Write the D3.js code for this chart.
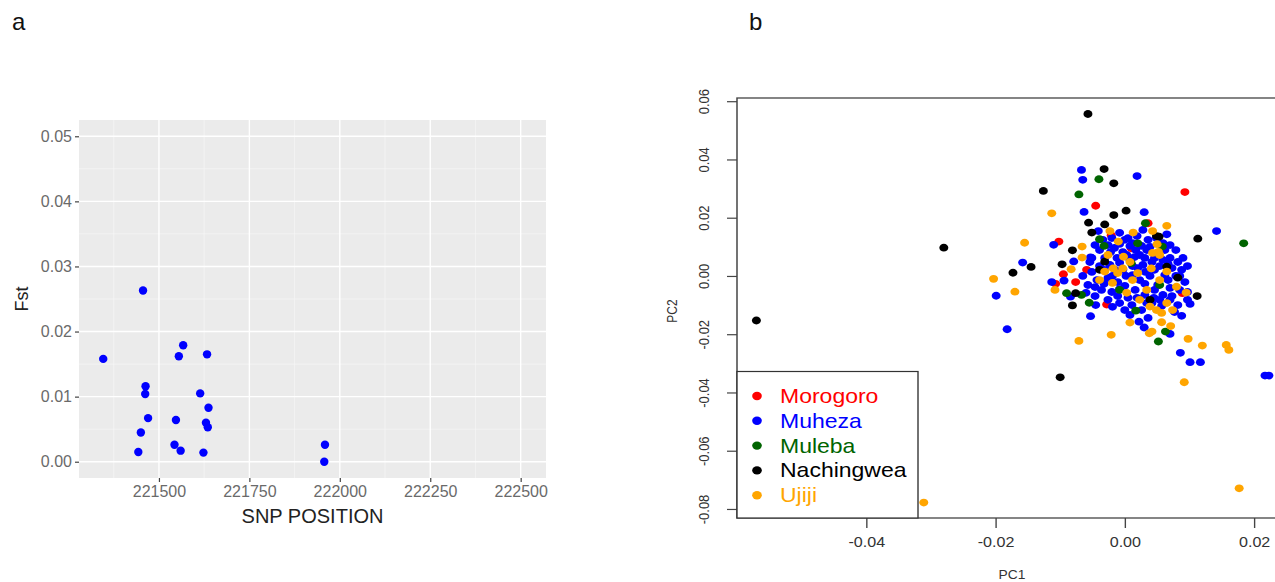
<!DOCTYPE html>
<html><head><meta charset="utf-8">
<script src="https://cdn.jsdelivr.net/npm/d3@7"></script>
<style>
body{margin:0;background:#fff}
svg{display:block;font-family:"Liberation Sans",Arial,Helvetica,sans-serif}
</style>
</head><body>
<svg id="chart" width="1275" height="582"></svg>
<script>
// ---------- Panel a data ----------
const snpPosition = [221346,221456,221463,221462,221470,221450,221443,221567,221555,221633,221614,221637,221630,221635,221547,221543,221560,221623,221959,221957];
const fstValue    = [0.0158,0.0263,0.0116,0.0104,0.0067,0.0045,0.0015,0.0179,0.0162,0.0165,0.0105,0.0083,0.0060,0.0053,0.0064,0.0026,0.0017,0.0014,0.0026,0.0000];
const xTicksA = [221500,221750,222000,222250,222500];
const xMinorA = [221375,221625,221875,222125,222375];
const yTicksA = [0.00,0.01,0.02,0.03,0.04,0.05];
const yMinorA = [0.005,0.015,0.025,0.035,0.045];

// ---------- Panel b data ----------
const groups = ["Morogoro","Muheza","Muleba","Nachingwea","Ujiji"];
const groupColors = ["#FF0000","#0000FF","#006400","#000000","#FFA500"];
const drawOrder = ["Morogoro","Muheza","Muleba","Nachingwea","Ujiji"];
const xTicksB = [-0.04,-0.02,0.00,0.02];
const yTicksB = [-0.08,-0.06,-0.04,-0.02,0.00,0.02,0.04,0.06];

const morogoro = [[0.0093,0.0288],[-0.0045,0.0241],[-0.0021,0.0140],[-0.0102,0.0118],[-0.0095,0.0006],[-0.0076,-0.0021],[-0.0107,-0.0027],[-0.0028,-0.0098],[0.0089,-0.0059],[-0.0059,0.0021],[0.0036,0.0181],[0.0010,0.0095]];
const muleba = [[-0.0040,0.0332],[-0.0071,0.0280],[0.0032,0.0181],[0.0184,0.0112],[-0.0032,0.0103],[-0.0039,0.0126],[0.0020,0.0112],[0.0058,0.0101],[-0.0090,-0.0059],[-0.0067,-0.0065],[-0.0055,-0.0092],[0.0017,-0.0119],[0.0063,-0.0191],[0.0052,-0.0225],[0.0010,0.0044],[-0.0008,-0.0048],[0.0054,-0.0031]];
const nachingwea = [[-0.0057,0.0556],[-0.0570,-0.0153],[-0.0280,0.0097],[-0.0032,0.0367],[-0.0017,0.0318],[-0.0126,0.0292],[-0.0017,0.0209],[0.0002,0.0224],[-0.0056,0.0183],[-0.0031,0.0177],[-0.0051,0.0149],[0.0049,0.0137],[0.0053,0.0135],[0.0113,0.0128],[-0.0081,0.0088],[-0.0145,0.0031],[-0.0097,0.0040],[-0.0173,0.0011],[-0.0076,-0.0059],[-0.0081,-0.0101],[0.0112,-0.0069],[0.0082,-0.0006],[-0.0100,-0.0348],[-0.0031,0.0049],[0.0065,0.0032],[-0.0039,0.0021],[0.0039,-0.0082]];
const ujiji = [[-0.0113,0.0215],[0.0065,0.0172],[-0.0155,0.0114],[-0.0066,0.0101],[-0.0066,0.0063],[-0.0083,0.0023],[-0.0203,-0.0010],[-0.0108,-0.0048],[-0.0170,-0.0054],[0.0095,-0.0057],[0.0008,-0.0160],[0.0038,-0.0197],[0.0057,-0.0159],[0.0071,-0.0172],[-0.0021,-0.0202],[-0.0071,-0.0223],[0.0042,-0.0191],[0.0098,-0.0216],[0.0120,-0.0239],[0.0157,-0.0237],[0.0161,-0.0254],[0.0092,-0.0365],[0.0177,-0.0729],[-0.0311,-0.0778],[-0.0023,0.0154],[0.0013,0.0149],[0.0043,0.0154],[-0.0010,0.0118],[0.0050,0.0109],[0.0052,0.0083],[-0.0026,0.0072],[0.0054,0.0072],[-0.0018,0.0026],[-0.0003,0.0026],[0.0041,0.0026],[-0.0002,0.0066],[0.0043,0.0079],[-0.0031,0.0015],[-0.0011,0.0010],[0.0012,-0.0014],[0.0020,0.0010],[0.0034,-0.0048],[0.0054,-0.0014],[0.0065,0.0015],[0.0080,-0.0037],[-0.0019,-0.0024],[0.0003,-0.0058],[0.0039,-0.0105],[0.0049,-0.0117],[0.0065,-0.0093],[0.0074,-0.0117],[0.0057,-0.0127],[-0.0039,-0.0014],[0.0023,-0.0082],[0.0008,0.0048]];
const muheza = [[-0.0067,0.0364],[-0.0065,0.0330],[0.0019,0.0343],[-0.0063,0.0220],[0.0030,0.0219],[0.0142,0.0154],[-0.0008,0.0148],[0.0065,0.0143],[-0.0110,0.0107],[-0.0053,0.0064],[-0.0079,0.0050],[-0.0158,0.0046],[-0.0113,-0.0021],[-0.0094,-0.0016],[-0.0199,-0.0068],[-0.0084,-0.0071],[-0.0053,-0.0138],[-0.0182,-0.0183],[0.0101,-0.0096],[0.0088,-0.0137],[0.0022,-0.0157],[0.0030,-0.0177],[0.0070,-0.0199],[0.0086,-0.0264],[0.0101,-0.0296],[0.0117,-0.0296],[0.0223,-0.0342],[0.0217,-0.0342],[-0.0041,0.0154],
 [-0.0039,0.0089],[-0.0026,0.0106],[-0.0016,0.0096],[-0.0003,0.0082],[0.0008,0.0103],[0.0023,0.0072],[0.0034,0.0089],[0.0046,0.0062],[0.0059,0.0055],[0.0070,0.0062],[0.0082,0.0048],[-0.0031,0.0062],[-0.0012,0.0062],[0.0008,0.0055],[0.0028,0.0038],[0.0042,0.0048],[0.0054,0.0034],[-0.0008,0.0045],[0.0012,0.0034],[0.0032,0.0014],[-0.0039,0.0034],[-0.0051,0.0014],[-0.0043,-0.0014],[-0.0026,-0.0007],[-0.0011,-0.0021],[0.0002,0.0000],[0.0023,-0.0014],[0.0039,0.0000],[0.0051,-0.0031],[0.0067,-0.0014],[0.0079,0.0000],[0.0088,0.0021],[0.0093,-0.0021],[0.0085,-0.0048],[0.0073,-0.0069],[0.0059,-0.0065],[0.0045,-0.0075],[0.0031,-0.0065],[0.0016,-0.0048],[0.0000,-0.0034],[-0.0020,-0.0055],[-0.0036,-0.0048],[-0.0046,-0.0069],[-0.0026,-0.0082],[-0.0008,-0.0093],[0.0011,-0.0100],[0.0026,-0.0117],[0.0042,-0.0093],[0.0057,-0.0103],[0.0070,-0.0082],[0.0082,-0.0100],[-0.0011,-0.0069],[0.0005,-0.0075],[-0.0057,-0.0031],[-0.0065,0.0000],[-0.0054,0.0048],[0.0059,0.0113],[0.0070,0.0106],[0.0000,0.0124],[0.0019,0.0137],[0.0036,0.0124],[0.0062,0.0089],[0.0073,0.0027],[0.0017,0.0089],[-0.0015,0.0021],[-0.0032,-0.0027],
 [-0.0046,0.0106],[-0.0034,0.0124],[-0.0020,0.0130],[-0.0008,0.0110],[0.0005,0.0130],[0.0012,0.0113],[0.0026,0.0103],[0.0039,0.0100],[0.0049,0.0130],[0.0079,0.0089],[0.0090,0.0062],[0.0097,0.0034],[-0.0022,0.0082],[0.0003,0.0072],[0.0015,0.0065],[0.0031,0.0062],[0.0067,0.0041],[0.0085,0.0000],[-0.0023,0.0038],[-0.0003,0.0021],[0.0020,0.0027],[0.0046,0.0021],[0.0062,0.0003],[-0.0046,-0.0038],[-0.0032,0.0021],[-0.0019,0.0000],[0.0012,0.0003],[0.0031,-0.0027],[0.0046,-0.0048],[0.0070,-0.0041],[0.0097,-0.0055],[-0.0045,-0.0100],[-0.0019,-0.0106],[0.0000,-0.0117],[0.0019,-0.0075],[0.0034,-0.0093],[0.0054,-0.0082],[0.0077,-0.0124],[0.0036,-0.0144],[0.0008,-0.0134],[0.0097,-0.0082],[-0.0008,-0.0045],[-0.0051,0.0062],[-0.0060,-0.0058],[0.0028,0.0158]];
const groupData = {Morogoro:morogoro, Muheza:muheza, Muleba:muleba, Nachingwea:nachingwea, Ujiji:ujiji};

const fmt2 = d => d3.format(".2f")(d).replace("\u2212","-");
const svg = d3.select("#chart");

// ================= Panel a =================
const A = {l:79, r:546, t:120, b:478};
const xA = d3.scaleLinear().domain([221279,222570]).range([A.l, A.r]);
const yA = d3.scaleLinear().domain([-0.0025,0.0525]).range([A.b, A.t]);
const gA = svg.append("g");

svg.append("text").attr("x",12).attr("y",30).attr("font-size",24).attr("fill","#111").text("a");

gA.append("rect").attr("x",A.l).attr("y",A.t).attr("width",A.r-A.l).attr("height",A.b-A.t).attr("fill","#EBEBEB");
gA.selectAll(".vminor").data(xMinorA).join("line")
  .attr("x1",d=>xA(d)).attr("x2",d=>xA(d)).attr("y1",A.t).attr("y2",A.b)
  .attr("stroke","#F7F7F7").attr("stroke-width",0.7);
gA.selectAll(".hminor").data(yMinorA).join("line")
  .attr("y1",d=>yA(d)).attr("y2",d=>yA(d)).attr("x1",A.l).attr("x2",A.r)
  .attr("stroke","#F7F7F7").attr("stroke-width",0.7);
gA.selectAll(".vmajor").data(xTicksA).join("line")
  .attr("x1",d=>xA(d)).attr("x2",d=>xA(d)).attr("y1",A.t).attr("y2",A.b)
  .attr("stroke","#fff").attr("stroke-width",1.4);
gA.selectAll(".hmajor").data(yTicksA).join("line")
  .attr("y1",d=>yA(d)).attr("y2",d=>yA(d)).attr("x1",A.l).attr("x2",A.r)
  .attr("stroke","#fff").attr("stroke-width",1.4);

const axYA = gA.append("g").attr("transform",`translate(${A.l},0)`)
  .call(d3.axisLeft(yA).tickValues(yTicksA).tickSize(4).tickPadding(3).tickFormat(fmt2));
const axXA = gA.append("g").attr("transform",`translate(0,${A.b})`)
  .call(d3.axisBottom(xA).tickValues(xTicksA).tickSize(4).tickPadding(4).tickFormat(d3.format("d")));
[axYA, axXA].forEach(ax=>{
  ax.select(".domain").remove();
  ax.selectAll(".tick line").attr("stroke","#444").attr("stroke-width",1.2);
  ax.selectAll(".tick text").attr("fill","#6a6a6a").attr("font-size",16).attr("font-family","Liberation Sans, Arial, sans-serif");
});

gA.append("text").attr("x",(A.l+A.r)/2).attr("y",523).attr("text-anchor","middle")
  .attr("font-size",20).attr("fill","#222").text("SNP POSITION");
gA.append("text").attr("transform",`translate(22,${(A.t+A.b)/2}) rotate(-90)`)
  .attr("text-anchor","middle").attr("dominant-baseline","central")
  .attr("font-size",18).attr("fill","#222").text("Fst");

gA.selectAll("circle.pt").data(snpPosition.map((p,i)=>[p,fstValue[i]])).join("circle")
  .attr("cx",d=>xA(d[0])).attr("cy",d=>yA(d[1])).attr("r",4.2).attr("fill","#0000FF");

// ================= Panel b =================
svg.append("text").attr("x",749).attr("y",30).attr("font-size",24).attr("fill","#111").text("b");

const SX = 1.15;              // horizontal stretch of the reference panel
const B = {l:737, r:1287, t:98, b:518};
const wB = (B.r - B.l)/SX;
const gB = svg.append("g").attr("transform",`translate(${B.l},0) scale(${SX},1)`);
const xB = d3.scaleLinear().domain([-0.0600,0.0251]).range([0,wB]);
const yB = d3.scaleLinear().domain([-0.0831,0.0611]).range([B.b,B.t]);
const colorB = d3.scaleOrdinal().domain(groups).range(groupColors);

// points
drawOrder.forEach(gname=>{
  gB.append("g").selectAll("circle").data(groupData[gname]).join("circle")
    .attr("cx",d=>xB(d[0])).attr("cy",d=>yB(d[1])).attr("r",3.9)
    .attr("fill",colorB(gname));
});

// box
gB.append("rect").attr("x",0).attr("y",B.t).attr("width",wB).attr("height",B.b-B.t)
  .attr("fill","none").attr("stroke","#444").attr("stroke-width",1.3);

// axes
const axYB = gB.append("g").call(d3.axisLeft(yB).tickValues(yTicksB).tickSize(10/SX).tickFormat(fmt2));
axYB.select(".domain").remove();
axYB.selectAll(".tick line").attr("stroke","#444").attr("stroke-width",1.2);
axYB.selectAll(".tick text").attr("x",null).attr("dy",null)
  .attr("text-anchor","middle").attr("dominant-baseline","central")
  .attr("transform",`translate(${(704-B.l)/SX},0) rotate(-90)`)
  .attr("font-size",13).attr("fill","#333").attr("font-family","Liberation Sans, Arial, sans-serif");

const axXB = gB.append("g").attr("transform",`translate(0,${B.b})`)
  .call(d3.axisBottom(xB).tickValues(xTicksB).tickSize(10).tickFormat(fmt2));
axXB.select(".domain").remove();
axXB.selectAll(".tick line").attr("stroke","#444").attr("stroke-width",1.2);
axXB.selectAll(".tick text").attr("y",24).attr("dy",null).attr("dominant-baseline","central")
  .attr("font-size",14).attr("fill","#333").attr("font-family","Liberation Sans, Arial, sans-serif");

gB.append("text").attr("x",wB/2).attr("y",575).attr("text-anchor","middle").attr("dominant-baseline","central")
  .attr("font-size",12).attr("fill","#333").text("PC1");
gB.append("text").attr("transform",`translate(${(672-B.l)/SX},311) rotate(-90)`)
  .attr("text-anchor","middle").attr("dominant-baseline","central")
  .attr("font-size",12).attr("fill","#333").text("PC2");

// legend
const legW = (918-B.l)/SX, legTop = 371.5;
gB.append("rect").attr("x",0).attr("y",legTop).attr("width",legW).attr("height",B.b-legTop)
  .attr("fill","#fff").attr("stroke","#333").attr("stroke-width",1.2);
const leg = gB.selectAll("g.leg").data(groups).join("g").attr("class","leg")
  .attr("transform",(d,i)=>`translate(0,${396 + i*24.8})`);
leg.append("circle").attr("cx",(757-B.l)/SX).attr("cy",0).attr("r",4.2).attr("fill",d=>colorB(d));
leg.append("text").attr("x",(780-B.l)/SX).attr("y",0).attr("dominant-baseline","central")
  .attr("font-size",20).attr("fill",d=>colorB(d)).text(d=>d);
</script>
</body></html>
